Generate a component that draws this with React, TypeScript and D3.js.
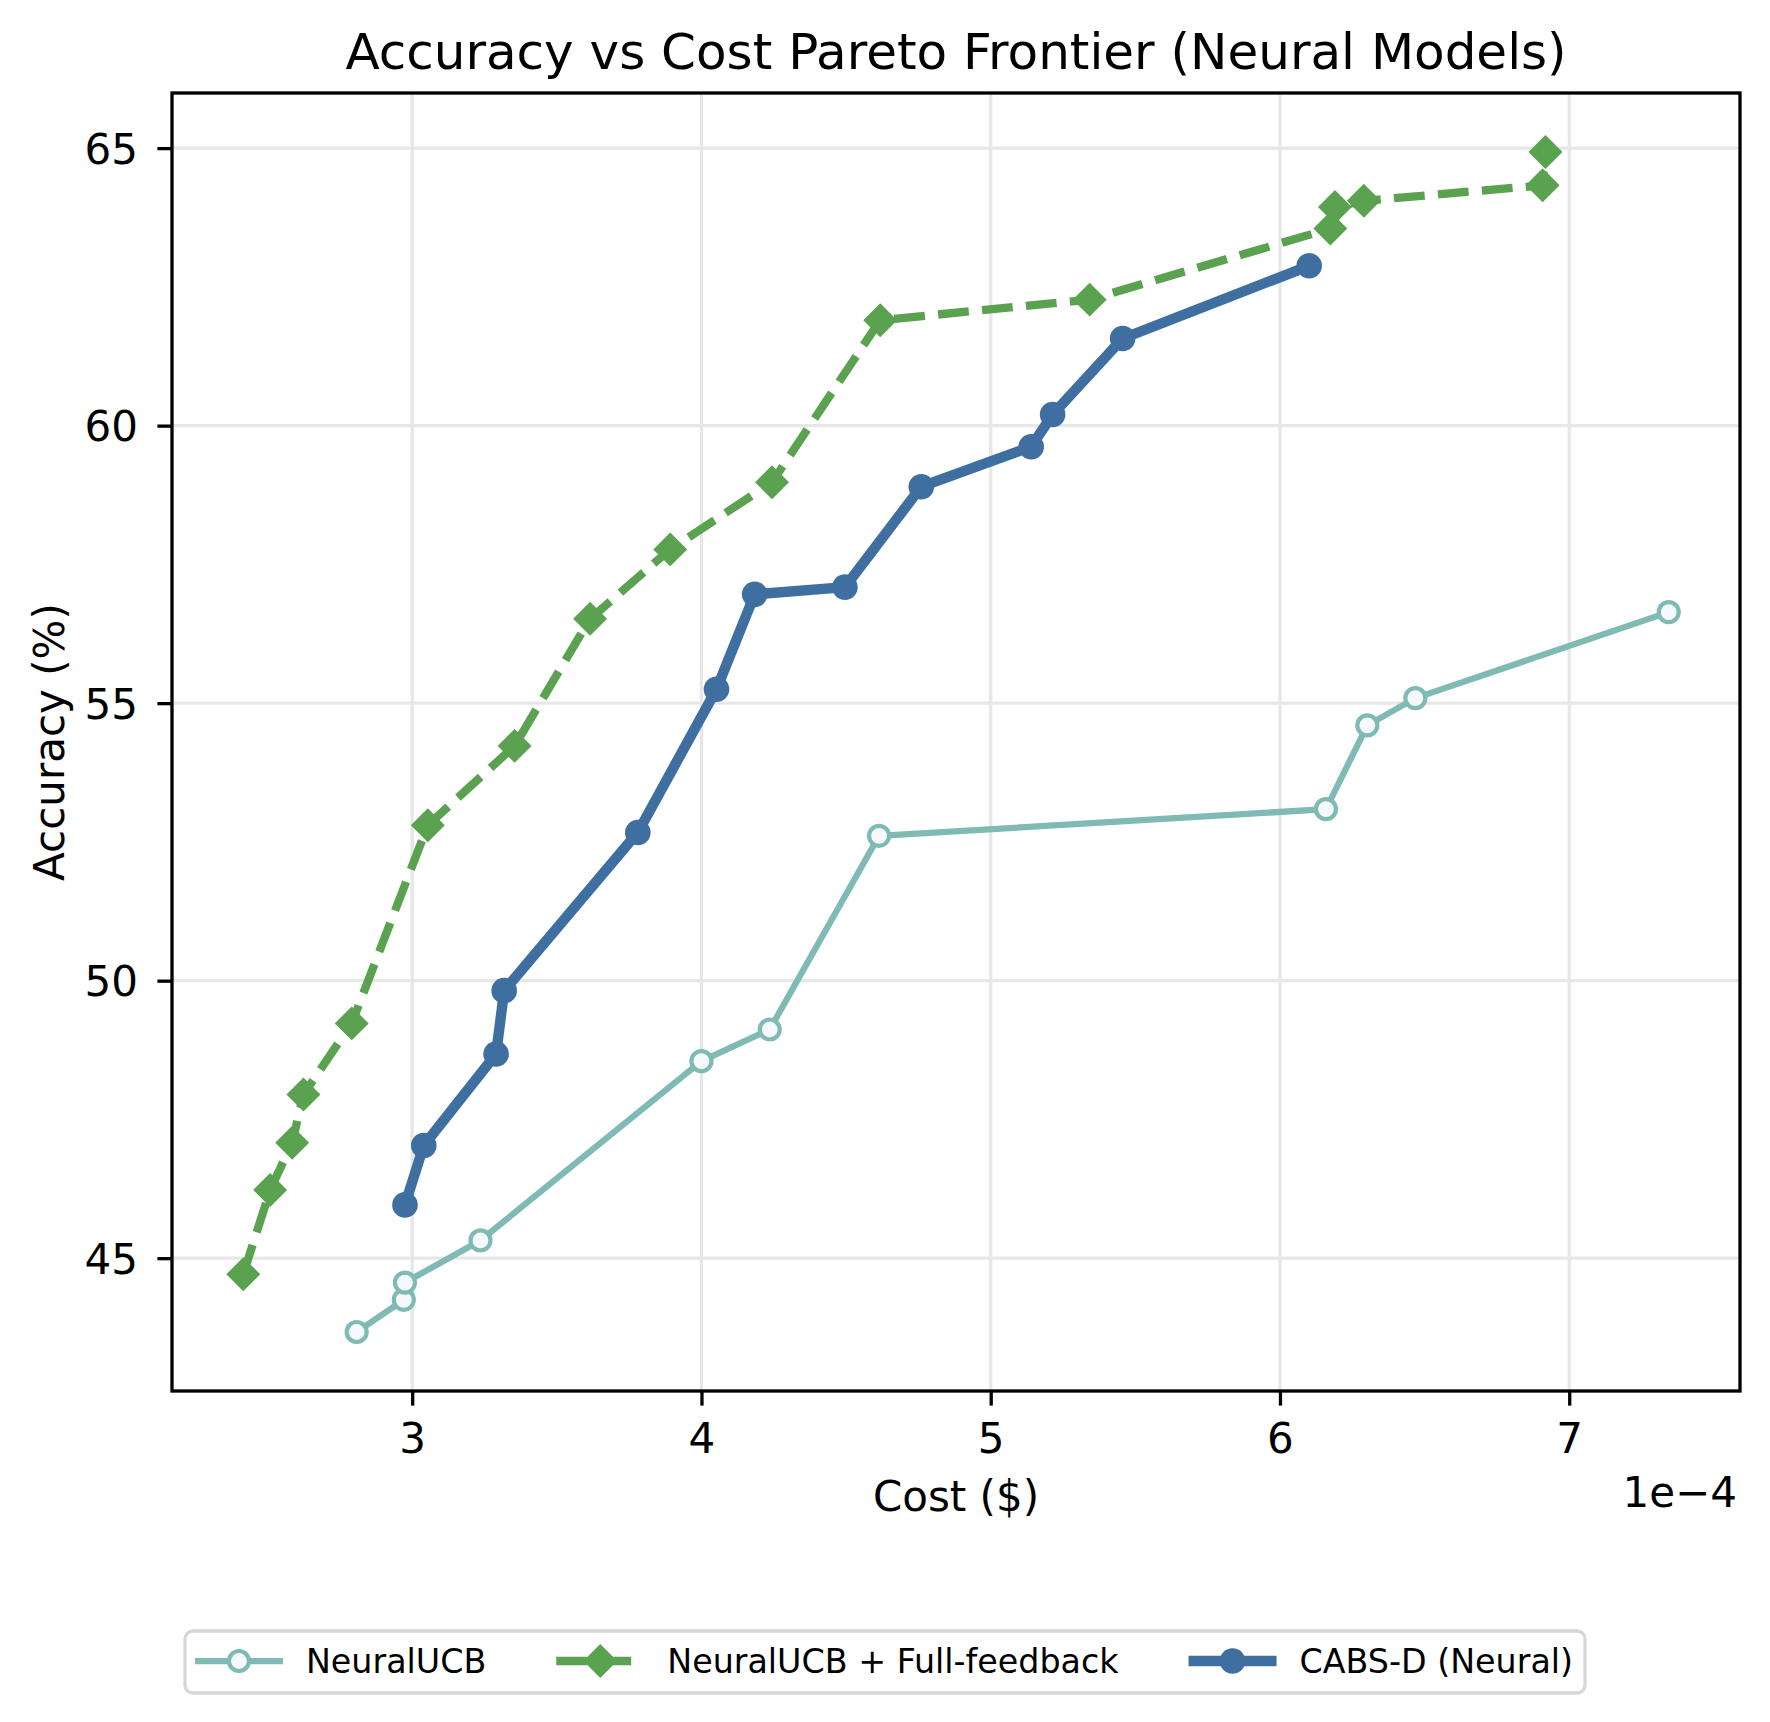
import React, { useRef, useEffect } from 'react';
import {
    select,
    scaleLinear,
    axisBottom,
    axisLeft,
    line,
    extent,
    symbol,
    symbolSquare
} from 'd3';

// cost per query in dollars, accuracy in percent
const ucbCost = [2.808e-4, 2.971e-4, 2.975e-4, 3.236e-4, 4.0e-4, 4.236e-4, 4.614e-4, 6.159e-4, 6.302e-4, 6.468e-4, 7.344e-4];
const ucbAcc = [43.67, 44.25, 44.56, 45.32, 48.55, 49.12, 52.61, 53.09, 54.6, 55.09, 56.64];

const fullCost = [2.416e-4, 2.509e-4, 2.585e-4, 2.624e-4, 2.791e-4, 3.054e-4, 3.354e-4, 3.615e-4, 3.892e-4, 4.244e-4, 4.618e-4, 5.342e-4, 6.174e-4, 6.19e-4, 6.29e-4, 6.908e-4, 6.918e-4];
const fullAcc = [44.71, 46.23, 47.08, 47.95, 49.23, 52.8, 54.23, 56.52, 57.77, 58.98, 61.9, 62.27, 63.55, 63.94, 64.05, 64.33, 64.93];

const cabsCost = [2.975e-4, 3.04e-4, 3.29e-4, 3.318e-4, 3.78e-4, 4.052e-4, 4.184e-4, 4.496e-4, 4.76e-4, 5.14e-4, 5.214e-4, 5.456e-4, 6.101e-4];
const cabsAcc = [45.96, 47.03, 48.68, 49.82, 52.67, 55.25, 56.96, 57.09, 58.9, 59.62, 60.2, 61.57, 62.88];

const seriesNames = ['NeuralUCB', 'NeuralUCB + Full-feedback', 'CABS-D (Neural)'];

const series = [
    { name: seriesNames[0], cost: ucbCost, acc: ucbAcc, color: '#7fbab4', width: 6.25, dash: null, marker: 'open' },
    { name: seriesNames[1], cost: fullCost, acc: fullAcc, color: '#5aa250', width: 8.3, dash: '30.8,13.3', marker: 'diamond' },
    { name: seriesNames[2], cost: cabsCost, acc: cabsAcc, color: '#3f6fa0', width: 10.4, dash: null, marker: 'dot' }
];

const W = 1770;
const H = 1722;
const M = { left: 172, right: 1740, top: 93, bottom: 1391 };
const FONT = '"DejaVu Sans", sans-serif';

const drawMarker = (g, kind, color, x, y) => {
    if (kind === 'open') {
        g.append('circle')
            .attr('cx', x).attr('cy', y).attr('r', 10)
            .attr('fill', '#f5f9fb')
            .attr('stroke', color)
            .attr('stroke-width', 4.2);
    } else if (kind === 'dot') {
        g.append('circle')
            .attr('cx', x).attr('cy', y).attr('r', 12.8)
            .attr('fill', color);
    } else {
        g.append('path')
            .attr('d', symbol(symbolSquare, 24 * 24)())
            .attr('transform', `translate(${x},${y}) rotate(45)`)
            .attr('fill', color);
    }
};

export default function App() {
    const svgRef = useRef(null);

    useEffect(() => {
        const svg = select(svgRef.current);
        svg.selectAll('*').remove();

        const pad = ([a, b]) => [a - 0.05 * (b - a), b + 0.05 * (b - a)];
        const xScale = scaleLinear()
            .domain(pad(extent(series.flatMap(s => s.cost))))
            .range([M.left, M.right]);
        const yScale = scaleLinear()
            .domain(pad(extent(series.flatMap(s => s.acc))))
            .range([M.bottom, M.top]);

        const xTicks = xScale.ticks(5);
        const yTicks = yScale.ticks(5);

        // grid
        const grid = svg.append('g');
        grid.selectAll('.vgrid')
            .data(xTicks)
            .join('line')
            .attr('x1', d => xScale(d)).attr('x2', d => xScale(d))
            .attr('y1', M.top).attr('y2', M.bottom)
            .attr('stroke', '#e7e7e7').attr('stroke-width', 3.3);
        grid.selectAll('.hgrid')
            .data(yTicks)
            .join('line')
            .attr('y1', d => yScale(d)).attr('y2', d => yScale(d))
            .attr('x1', M.left).attr('x2', M.right)
            .attr('stroke', '#e7e7e7').attr('stroke-width', 3.3);

        // series
        series.forEach(s => {
            const pts = s.cost.map((c, i) => [xScale(c), yScale(s.acc[i])]);
            const g = svg.append('g');
            g.append('path')
                .attr('d', line()(pts))
                .attr('fill', 'none')
                .attr('stroke', s.color)
                .attr('stroke-width', s.width)
                .attr('stroke-linejoin', 'round')
                .attr('stroke-dasharray', s.dash);
            pts.forEach(([x, y]) => drawMarker(g, s.marker, s.color, x, y));
        });

        // axes
        const xAxis = axisBottom(xScale)
            .tickValues(xTicks)
            .tickSize(14.6)
            .tickFormat(d => String(Math.round(d * 1e4)));
        const xg = svg.append('g')
            .attr('transform', `translate(0,${M.bottom})`)
            .call(xAxis);
        const yAxis = axisLeft(yScale)
            .tickValues(yTicks)
            .tickSize(14.6)
            .tickPadding(19.4);
        const yg = svg.append('g')
            .attr('transform', `translate(${M.left},0)`)
            .call(yAxis);

        [xg, yg].forEach(a => {
            a.select('.domain').remove();
            a.selectAll('line').attr('stroke', '#000').attr('stroke-width', 3.3);
            a.selectAll('text')
                .attr('fill', '#000')
                .style('font-family', FONT)
                .style('font-size', '42px');
        });
        xg.selectAll('text').attr('y', 62).attr('dy', null);
        yg.selectAll('text').attr('dy', '0.36em');

        svg.append('rect')
            .attr('x', M.left).attr('y', M.top)
            .attr('width', M.right - M.left).attr('height', M.bottom - M.top)
            .attr('fill', 'none').attr('stroke', '#000').attr('stroke-width', 3.3);

        // labels
        const text = (x, y, str, size, anchor = 'middle') =>
            svg.append('text')
                .attr('x', x).attr('y', y)
                .attr('text-anchor', anchor)
                .style('font-family', FONT)
                .style('font-size', `${size}px`)
                .attr('fill', '#000')
                .text(str);

        const cx = (M.left + M.right) / 2;
        const cy = (M.top + M.bottom) / 2;
        text(cx, 69, 'Accuracy vs Cost Pareto Frontier (Neural Models)', 50);
        text(cx, 1511, 'Cost ($)', 42);
        text(1737, 1507, '1e\u22124', 42, 'end');
        text(0, 0, 'Accuracy (%)', 42).attr('transform', `translate(64,${cy}) rotate(-90)`);

        // legend, centred under the figure
        const legend = svg.append('g');
        const frame = legend.append('rect');
        const handleLen = 88;
        const textGap = 23;
        const colGap = 70;
        const legY = 1661;
        let x = 0;
        const items = series.map(s => {
            const g = legend.append('g').attr('transform', `translate(${x},0)`);
            g.append('line')
                .attr('x1', 0).attr('x2', handleLen)
                .attr('y1', legY).attr('y2', legY)
                .attr('stroke', s.color)
                .attr('stroke-width', s.width)
                .attr('stroke-dasharray', s.dash);
            drawMarker(g, s.marker, s.color, handleLen / 2, legY);
            const t = g.append('text')
                .attr('x', handleLen + textGap)
                .attr('y', legY + 12)
                .style('font-family', FONT)
                .style('font-size', '33.3px')
                .attr('fill', '#000')
                .text(s.name);
            const w = handleLen + textGap + t.node().getComputedTextLength();
            const item = { g, x };
            x += w + colGap;
            return item;
        });
        const contentW = x - colGap;
        const padL = 10;
        const padR = 12;
        const boxW = contentW + padL + padR;
        const left = W / 2 - boxW / 2;
        items.forEach(it => it.g.attr('transform', `translate(${left + padL + it.x},0)`));
        frame
            .attr('x', left).attr('y', 1631)
            .attr('width', boxW).attr('height', 62)
            .attr('rx', 8)
            .attr('fill', '#fff')
            .attr('stroke', '#d4d7dc')
            .attr('stroke-width', 3.3);
    }, []);

    return (
        <svg
            ref={svgRef}
            width={W}
            height={H}
            style={{ position: 'absolute', left: 0, top: 0, background: '#fff' }}
        />
    );
}
